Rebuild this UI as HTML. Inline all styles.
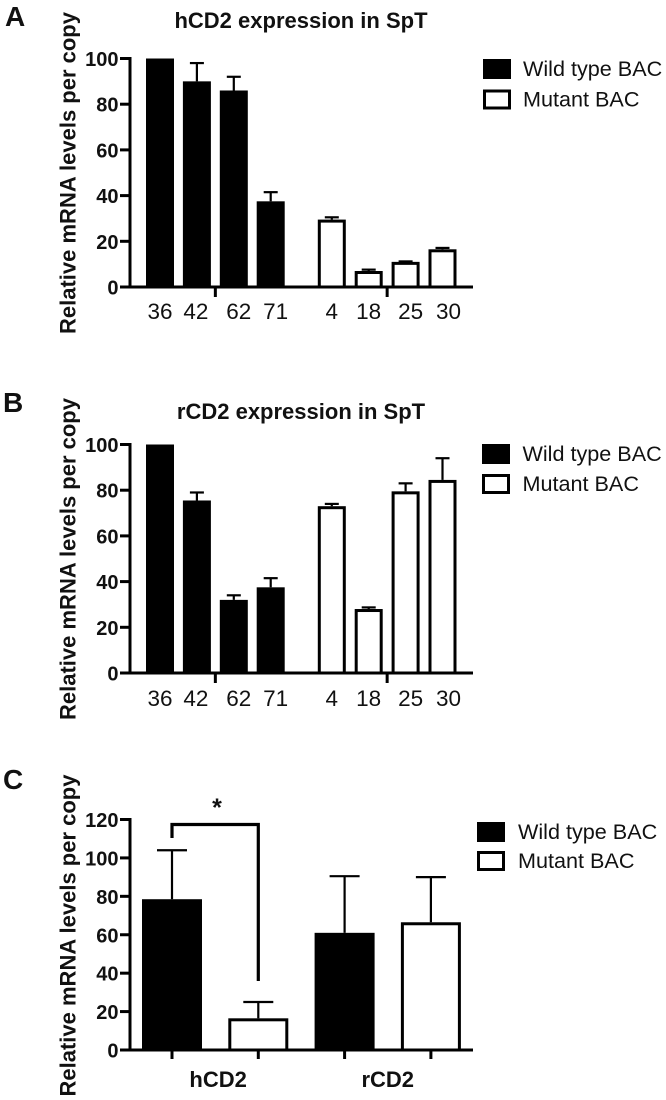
<!DOCTYPE html>
<html>
<head>
<meta charset="utf-8">
<title>CD2 expression charts</title>
<style>
  html, body { margin: 0; padding: 0; background: #fff; }
  #figure { display: block; width: 666px; height: 1100px; font-family: "Liberation Sans", sans-serif; }
  text { fill: #111; }
</style>
</head>
<body>
<svg id="figure" xmlns="http://www.w3.org/2000/svg" width="666" height="1100" viewBox="0 0 666 1100"></svg>
<script>
// Panel A data
const aCategories = ['36', '42', '62', '71', '4', '18', '25', '30'];
const aValues = [100, 90, 86, 37.5, 29.5, 7, 11, 16.5];
const aErrors = [0, 8, 6, 4, 1, 0.6, 0.2, 0.6];
// Panel B data
const bCategories = ['36', '42', '62', '71', '4', '18', '25', '30'];
const bValues = [100, 75.5, 32, 37.5, 73, 28, 79.5, 84.5];
const bErrors = [0, 3.5, 2, 4, 1, 0.7, 3.5, 9.5];
// Panel C data
const cGroups = ['hCD2', 'rCD2'];
const cValues = [78.5, 16.5, 61, 66.5];
const cErrors = [25.5, 8.5, 29.5, 23.5];
// Shared labels
const abTicks = [0, 20, 40, 60, 80, 100];
const cTicks = [0, 20, 40, 60, 80, 100, 120];
const legendLabels = ['Wild type BAC', 'Mutant BAC'];
const yTitle = 'Relative mRNA levels per copy';
const aTitle = 'hCD2 expression in SpT';
const bTitle = 'rCD2 expression in SpT';

const svg = document.getElementById('figure');
const NS = 'http://www.w3.org/2000/svg';

function make(tag, attrs, name, parent) {
  const el = document.createElementNS(NS, tag);
  for (const k in attrs) el.setAttribute(k, attrs[k]);
  
  
  (parent || svg).appendChild(el);
  return el;
}
function label(str, x, y, size, weight, anchor, name, parent, extra) {
  const t = make('text', Object.assign({ x: x, y: y, 'font-size': size, 'font-weight': weight, 'text-anchor': anchor }, extra || {}), name, parent);
  t.textContent = str;
  return t;
}
function line(x1, y1, x2, y2, w, name, parent) {
  return make('line', { x1: x1, y1: y1, x2: x2, y2: y2, stroke: '#000', 'stroke-width': w }, name, parent);
}

function drawAxis(g, p, ticks, yScale) {
  line(p.axisX, yScale(ticks[ticks.length - 1]) - 1.5, p.axisX, yScale(0) + 1.5, 3, 'y-axis-line', g);
  line(p.tickLeft, yScale(0), p.axisEnd, yScale(0), 3, 'x-axis-line', g);
  ticks.forEach(function (t) {
    line(p.tickLeft, yScale(t), p.axisX, yScale(t), 3, 'y-tick-' + t, g);
    label(String(t), p.tickLeft - 1.5, yScale(t) + 7.5, 20, 'bold', 'end', 'y-tick-label-' + t, g);
  });
  const tx = p.yTitleX, ty = p.yTitleY;
  label(yTitle, tx, ty, 22, 'bold', 'middle', 'y-axis-title', g, { transform: 'rotate(-90 ' + tx + ' ' + ty + ')' });
}

function drawBars(g, values, errors, p, yScale, xScale) {
  values.forEach(function (v, i) {
    const cx = xScale(i);
    const filled = p.isWild(i);
    const top = yScale(v);
    if (errors[i] > 0) {
      const et = yScale(v + errors[i]);
      line(cx, top, cx, et, 2.2, 'error-stem-' + i, g);
      line(cx - p.capW / 2, et, cx + p.capW / 2, et, 2.2, 'error-cap-' + i, g);
    }
    make('rect', {
      x: cx - p.barW / 2 + 1.5, y: top + 1.5, width: p.barW - 3, height: yScale(0) - top - 1.5,
      fill: filled ? '#000' : '#fff', stroke: '#000', 'stroke-width': 3
    }, 'bar-' + (filled ? 'wild-' : 'mutant-') + i, g);
  });
}

function drawLegend(g, x, y1, y2, textX) {
  make('rect', { x: x, y: y1, width: 28, height: 20, fill: '#000' }, 'legend-swatch-wild-type', g);
  label(legendLabels[0], textX, y1 + 17, 21.6, 'normal', 'start', 'legend-label-wild-type', g);
  make('rect', { x: x + 1.5, y: y2 + 1.5, width: 25, height: 17, fill: '#fff', stroke: '#000', 'stroke-width': 3 }, 'legend-swatch-mutant', g);
  label(legendLabels[1], textX, y2 + 17, 21.6, 'normal', 'start', 'legend-label-mutant', g);
}

function drawEightBarPanel(name, categories, values, errors, titleText, cfg) {
  const g = make('g', {}, name, svg);
  const yScale = function (v) { return cfg.y0 - v * (cfg.y0 - cfg.y100) / 100; };
  const xScale = function (i) { return 160 + 36.9 * i + (i >= 4 ? 24.2 : 0); };
  const p = {
    axisX: 130, axisEnd: 473, tickLeft: 120, yTitleX: 75.5, yTitleY: cfg.yTitleY,
    barW: 28, capW: 14, isWild: function (i) { return i < 4; }
  };
  label(cfg.letter, cfg.letterX, cfg.letterY, 28, 'bold', 'start', 'panel-letter', g);
  label(titleText, 301, cfg.titleY, 22, 'bold', 'middle', 'chart-title', g);
  drawAxis(g, p, abTicks, yScale);
  drawBars(g, values, errors, p, yScale, xScale);
  [[0, 3], [4, 7]].forEach(function (r, k) {
    const mx = (xScale(r[0]) + xScale(r[1])) / 2;
    line(mx, cfg.y0, mx, cfg.y0 + 10, 3, 'x-tick-group-' + k, g);
  });
  const nudge = [0, -1, 5, 5, 0, 0, 5, 6];
  categories.forEach(function (c, i) {
    label(c, xScale(i) + nudge[i], cfg.catY, 22.5, 'normal', 'middle', 'x-tick-label-' + c, g);
  });
  drawLegend(g, cfg.legX, cfg.legY1, cfg.legY2, cfg.legTextX);
}

drawEightBarPanel('panel-a', aCategories, aValues, aErrors, aTitle, {
  letter: 'A', letterX: 5, letterY: 26, titleY: 28, y0: 287, y100: 58.5, yTitleY: 173, catY: 319,
  legX: 483, legY1: 59, legY2: 89.5, legTextX: 523
});
drawEightBarPanel('panel-b', bCategories, bValues, bErrors, bTitle, {
  letter: 'B', letterX: 3, letterY: 412, titleY: 419, y0: 673, y100: 444.5, yTitleY: 559, catY: 706,
  legX: 482, legY1: 444, legY2: 474, legTextX: 522.5
});

(function drawPanelC() {
  const g = make('g', {}, 'panel-c', svg);
  const y0 = 1050, y120 = 819.5;
  const yScale = function (v) { return y0 - v * (y0 - y120) / 120; };
  const xScale = function (i) { return 172 + 86.3 * i; };
  const p = {
    axisX: 130, axisEnd: 473, tickLeft: 120, yTitleX: 75.5, yTitleY: 935.5,
    barW: 60, capW: 30, isWild: function (i) { return i % 2 === 0; }
  };
  label('C', 3, 789, 28, 'bold', 'start', 'panel-letter', g);
  drawAxis(g, p, cTicks, yScale);
  drawBars(g, cValues, cErrors, p, yScale, xScale);
  cValues.forEach(function (v, i) {
    line(xScale(i), y0, xScale(i), y0 + 9, 3, 'x-tick-' + i, g);
  });
  const groupNudge = [3, 0];
  cGroups.forEach(function (c, k) {
    const mx = (xScale(k * 2) + xScale(k * 2 + 1)) / 2;
    label(c, mx + groupNudge[k], 1087, 22, 'bold', 'middle', 'x-group-label-' + c, g);
  });
  make('polyline', {
    points: xScale(0) + ',838 ' + xScale(0) + ',824.5 ' + xScale(1) + ',824.5 ' + xScale(1) + ',981',
    fill: 'none', stroke: '#000', 'stroke-width': 3.2
  }, 'significance-bracket', g);
  label('*', 217, 816, 25, 'bold', 'middle', 'significance-star', g);
  drawLegend(g, 477, 822, 851, 518);
})();
</script>
</body>
</html>
